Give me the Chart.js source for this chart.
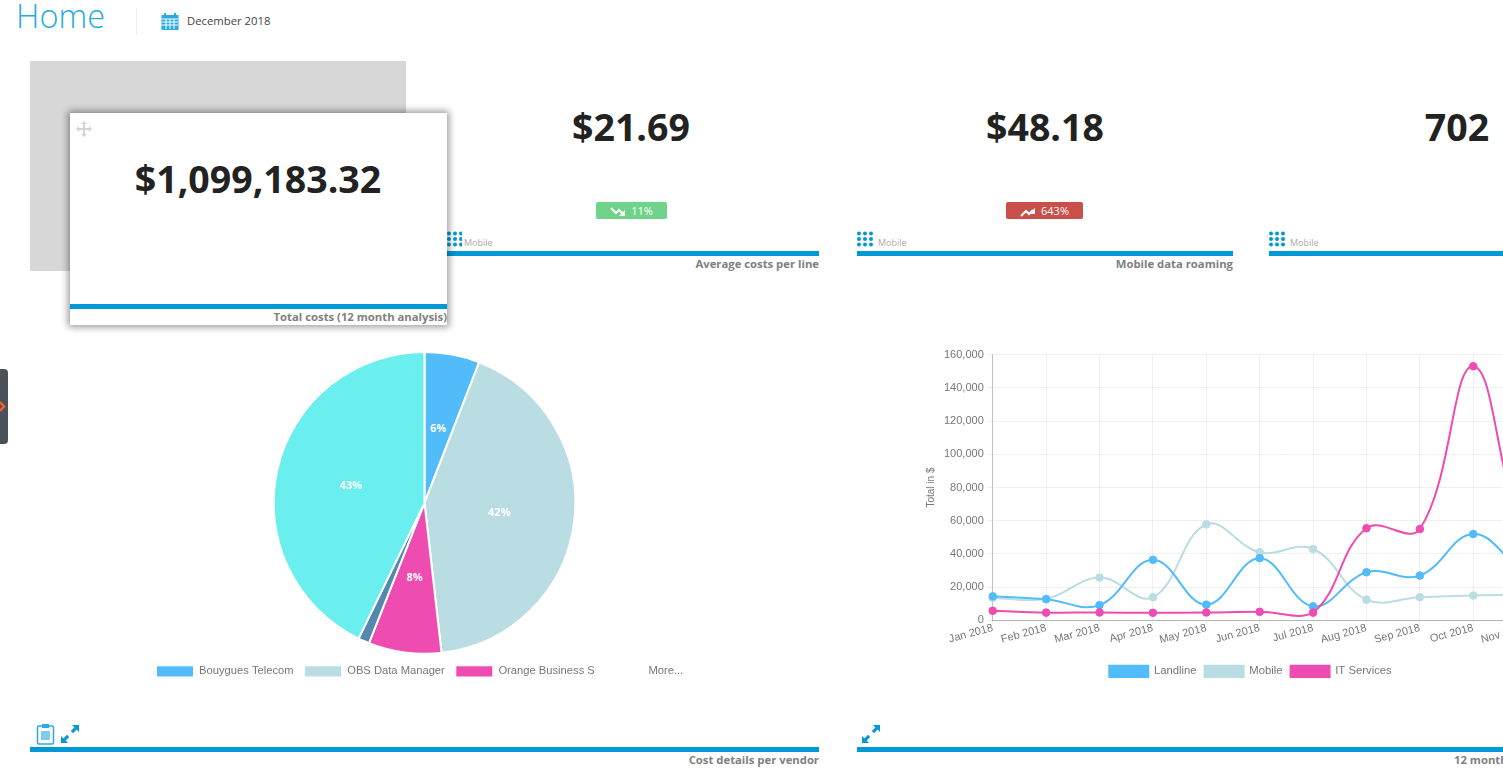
<!DOCTYPE html>
<html>
<head>
<meta charset="utf-8">
<title>Home</title>
<script src="https://cdn.jsdelivr.net/npm/chart.js@4"></script>
<style>
  html, body { margin: 0; padding: 0; background: #fff; width: 1503px; height: 779px; overflow: hidden; font-family: "Open Sans", sans-serif; }
  .abs { position: absolute; }
  .bar { position: absolute; height: 5px; background: #0099d6; }
  .num { position: absolute; font-weight: 700; font-size: 37.5px; color: #222; text-align: center; transform: translateX(-50%); white-space: nowrap; line-height: 40px; }
  .cap { position: absolute; font-weight: 700; font-size: 11.3px; color: #808080; white-space: nowrap; line-height: 14px; }
  .mob { position: absolute; font-size: 9px; color: #aaa; line-height: 12px; }
  .badge { position: absolute; height: 17px; border-radius: 2px; color: #fff; font-size: 11px; line-height: 17px; text-align: center; }
  .badge svg { vertical-align: -2px; margin-right: 5px; }
</style>
</head>
<body>
<div class="abs" style="left:16px;top:0;font-size:32.5px;font-weight:300;color:#29abe2;line-height:32px">Home</div>
<div class="abs" style="left:136px;top:8px;width:1px;height:27px;background:#eee"></div>
<svg class="abs" style="left:161px;top:13px" width="18" height="17" viewBox="0 0 18 17">
  <rect x="0.5" y="2" width="17" height="15" fill="#29abe2"/>
  <rect x="3" y="0" width="2" height="4" fill="#29abe2"/><rect x="13" y="0" width="2" height="4" fill="#29abe2"/>
  <path d="M1 6h16M1 9h16M1 12h16M5 6v10M9 6v10M13 6v10" stroke="#fff" stroke-width="1"/>
</svg>
<div class="abs" style="left:187px;top:13px;font-size:11.3px;color:#444;line-height:16px">December 2018</div>

<div class="abs" style="left:30px;top:61px;width:376px;height:210px;background:#d7d7d7"></div>

<div class="num" style="left:631px;top:107px">$21.69</div>
<div class="badge" style="left:596px;top:202px;width:71px;background:#6fd48a">
  <svg width="16" height="10" viewBox="0 0 16 10"><path d="M1 1l5 5 3-3 4 4" stroke="#fff" stroke-width="2" fill="none"/><path d="M15 3v6h-6z" fill="#fff"/></svg>11%</div>
<svg class="abs" style="left:447px;top:231px" width="15" height="16"><use href="#dots"/></svg>
<div class="mob" style="left:464px;top:237px">Mobile</div>
<div class="bar" style="left:443px;top:251px;width:376px"></div>
<div class="cap" style="right:684px;top:257px">Average costs per line</div>

<div class="num" style="left:1045px;top:107px">$48.18</div>
<div class="badge" style="left:1006px;top:202px;width:77px;background:#c9504a">
  <svg width="16" height="10" viewBox="0 0 16 10"><path d="M1 9l5-5 3 3 4-4" stroke="#fff" stroke-width="2" fill="none"/><path d="M15 1v6h-6z" fill="#fff"/></svg>643%</div>
<svg class="abs" style="left:857px;top:231px" width="18" height="16"><use href="#dots"/></svg>
<div class="mob" style="left:878px;top:237px">Mobile</div>
<div class="bar" style="left:857px;top:251px;width:376px"></div>
<div class="cap" style="right:270px;top:257px">Mobile data roaming</div>

<div class="num" style="left:1457px;top:107px">702</div>
<svg class="abs" style="left:1269px;top:231px" width="18" height="16"><use href="#dots"/></svg>
<div class="mob" style="left:1290px;top:237px">Mobile</div>
<div class="bar" style="left:1269px;top:251px;width:234px"></div>

<svg width="0" height="0" style="position:absolute">
  <defs><g id="dots" fill="#0099d6">
    <circle cx="2" cy="2.5" r="2"/><circle cx="8" cy="2.5" r="2"/><circle cx="14" cy="2.5" r="2"/>
    <circle cx="2" cy="8" r="2"/><circle cx="8" cy="8" r="2"/><circle cx="14" cy="8" r="2"/>
    <circle cx="2" cy="13.5" r="2"/><circle cx="8" cy="13.5" r="2"/><circle cx="14" cy="13.5" r="2"/>
  </g></defs>
</svg>

<div class="abs" style="left:70px;top:113px;width:377px;height:212px;background:#fff;box-shadow:0 0 7px 2px rgba(0,0,0,.4);z-index:5">
  <svg class="abs" style="left:6px;top:8px" width="16" height="16" viewBox="0 0 16 16" fill="#d5d5d5">
    <path d="M8 0l3 3H9v4h4V5l3 3-3 3V9H9v4h2l-3 3-3-3h2V9H3v2L0 8l3-3v2h4V3H5z"/>
  </svg>
  <div class="num" style="left:188px;top:46px">$1,099,183.32</div>
  <div class="bar" style="left:0;top:191px;width:377px"></div>
  <div class="cap" style="right:0;top:197px">Total costs (12 month analysis)</div>
</div>

<div class="abs" style="left:0;top:369px;width:8px;height:75px;background:#4a5158;border-radius:0 4px 4px 0"></div>
<svg class="abs" style="left:0;top:401px" width="6" height="11"><path d="M0 1l4 4.5-4 4.5" stroke="#f0602a" stroke-width="2.5" fill="none"/></svg>

<canvas id="pieChart" class="abs" width="789" height="343" style="left:30px;top:345px"></canvas>
<canvas id="lineChart" class="abs" width="779" height="342" style="left:857px;top:345px"></canvas>

<svg class="abs" style="left:36px;top:723px" width="20" height="22" viewBox="0 0 20 22">
  <rect x="1.5" y="3" width="16" height="18" rx="1.5" fill="none" stroke="#29abe2" stroke-width="1.5"/>
  <rect x="6" y="1" width="7" height="4" fill="#29abe2"/>
  <rect x="5" y="8" width="9" height="9" fill="#7fcdee"/>
</svg>
<svg class="abs" style="left:61px;top:725px" width="18" height="18"><use href="#expand"/></svg>
<svg class="abs" style="left:862px;top:725px" width="18" height="18"><use href="#expand"/></svg>
<svg width="0" height="0" style="position:absolute">
  <defs><g id="expand" fill="#0099d6">
    <path d="M11 0h7v7l-2.4-2.4-3.6 3.6-2.2-2.2 3.6-3.6z"/>
    <path d="M7 18H0v-7l2.4 2.4 3.6-3.6 2.2 2.2-3.6 3.6z"/>
  </g></defs>
</svg>
<div class="bar" style="left:30px;top:747px;width:789px"></div>
<div class="cap" style="right:684px;top:753px">Cost details per vendor</div>
<div class="bar" style="left:857px;top:747px;width:646px"></div>
<div class="cap" style="left:1454px;top:753px">12 month</div>

<script>
const pieValues = [5.9, 42.3, 7.8, 1.2, 42.8];
const pieColors = ['#52bcfa', '#b9dde3', '#ee4cb0', '#5588b0', '#6beeee'];
const pieSliceLabels = ['6%', '42%', '8%', '', '43%'];
const pieLegendNames = ['Bouygues Telecom', 'OBS Data Manager', 'Orange Business S', 'More...   '];

const months = ['Jan 2018', 'Feb 2018', 'Mar 2018', 'Apr 2018', 'May 2018', 'Jun 2018', 'Jul 2018', 'Aug 2018', 'Sep 2018', 'Oct 2018', 'Nov 2018', 'Dec 2018'];
const landline = [14500, 12800, 9200, 36500, 9500, 37500, 8500, 29000, 27000, 52000, 30000, 28000];
const mobile = [13500, 13000, 25800, 14000, 57800, 41000, 43000, 12500, 14000, 15000, 15500, 15000];
const itServices = [5800, 4700, 4800, 4600, 4800, 5200, 4700, 55500, 55000, 153000, 50000, 30000];

Chart.defaults.font.family = '"Liberation Sans", Arial, sans-serif';
Chart.defaults.color = '#777';
Chart.defaults.animation = false;

// percent text in the middle of each slice
const sliceLabelPlugin = {
  id: 'sliceLabels',
  afterDatasetsDraw(chart) {
    const ctx = chart.ctx;
    ctx.save();
    ctx.font = 'bold 11px "Open Sans", sans-serif';
    ctx.fillStyle = '#fff';
    ctx.textAlign = 'center';
    ctx.textBaseline = 'middle';
    chart.getDatasetMeta(0).data.forEach((arc, i) => {
      const pos = arc.tooltipPosition();
      ctx.fillText(pieSliceLabels[i], pos.x, pos.y);
    });
    ctx.restore();
  }
};

new Chart(document.getElementById('pieChart'), {
  type: 'pie',
  data: {
    labels: pieValues.map((v, i) => pieLegendNames[i] || ''),
    datasets: [{ data: pieValues, backgroundColor: pieColors, borderColor: '#fff', borderWidth: 2 }]
  },
  options: {
    responsive: false,
    layout: { padding: { top: 6, bottom: 1 } },
    plugins: {
      tooltip: { enabled: false },
      legend: {
        position: 'bottom',
        labels: {
          font: { size: 11.2 },
          boxWidth: 37,
          padding: 11,
          generateLabels: () => pieLegendNames.map((name, i) => ({
            text: name,
            fillStyle: i < 3 ? pieColors[i] : 'rgba(0,0,0,0)',
            strokeStyle: i < 3 ? '#fff' : 'rgba(0,0,0,0)',
            fontColor: '#777',
            lineWidth: 1,
            index: i
          }))
        }
      }
    }
  },
  plugins: [sliceLabelPlugin]
});

new Chart(document.getElementById('lineChart'), {
  type: 'line',
  data: {
    labels: months,
    datasets: [
      { label: 'Landline', data: landline, borderColor: '#52bcfa', backgroundColor: '#52bcfa', order: 2 },
      { label: 'Mobile', data: mobile, borderColor: '#b9dde3', backgroundColor: '#b9dde3', order: 3 },
      { label: 'IT Services', data: itServices, borderColor: '#ee4cb0', backgroundColor: '#ee4cb0', order: 1 }
    ]
  },
  options: {
    responsive: false,
    layout: { padding: { left: 64, right: 56, top: 6 } },
    elements: {
      line: { tension: 0.4, borderWidth: 2, fill: false },
      point: { radius: 3.8, borderWidth: 1 }
    },
    scales: {
      x: {
        border: { color: 'rgba(0,0,0,0.25)' },
        grid: { color: 'rgba(0,0,0,0.06)', tickLength: 4 },
        ticks: { font: { size: 11 }, minRotation: 15, maxRotation: 15, autoSkip: false, padding: -3 },
        // labels sit tight under the axis, keep the room below them
        afterFit: (scale) => { scale.height += 14; }
      },
      y: {
        min: 0,
        max: 160000,
        border: { color: 'rgba(0,0,0,0.2)' },
        grid: { color: 'rgba(0,0,0,0.06)', tickLength: 6 },
        ticks: { stepSize: 20000, font: { size: 11 } },
        title: { display: true, text: 'Total in $', font: { size: 10 } }
      }
    },
    plugins: {
      tooltip: { enabled: false },
      legend: {
        position: 'bottom',
        labels: { font: { size: 11.3 }, boxWidth: 39, padding: 8, sort: (a, b) => a.datasetIndex - b.datasetIndex }
      }
    }
  }
});
</script>
</body>
</html>
